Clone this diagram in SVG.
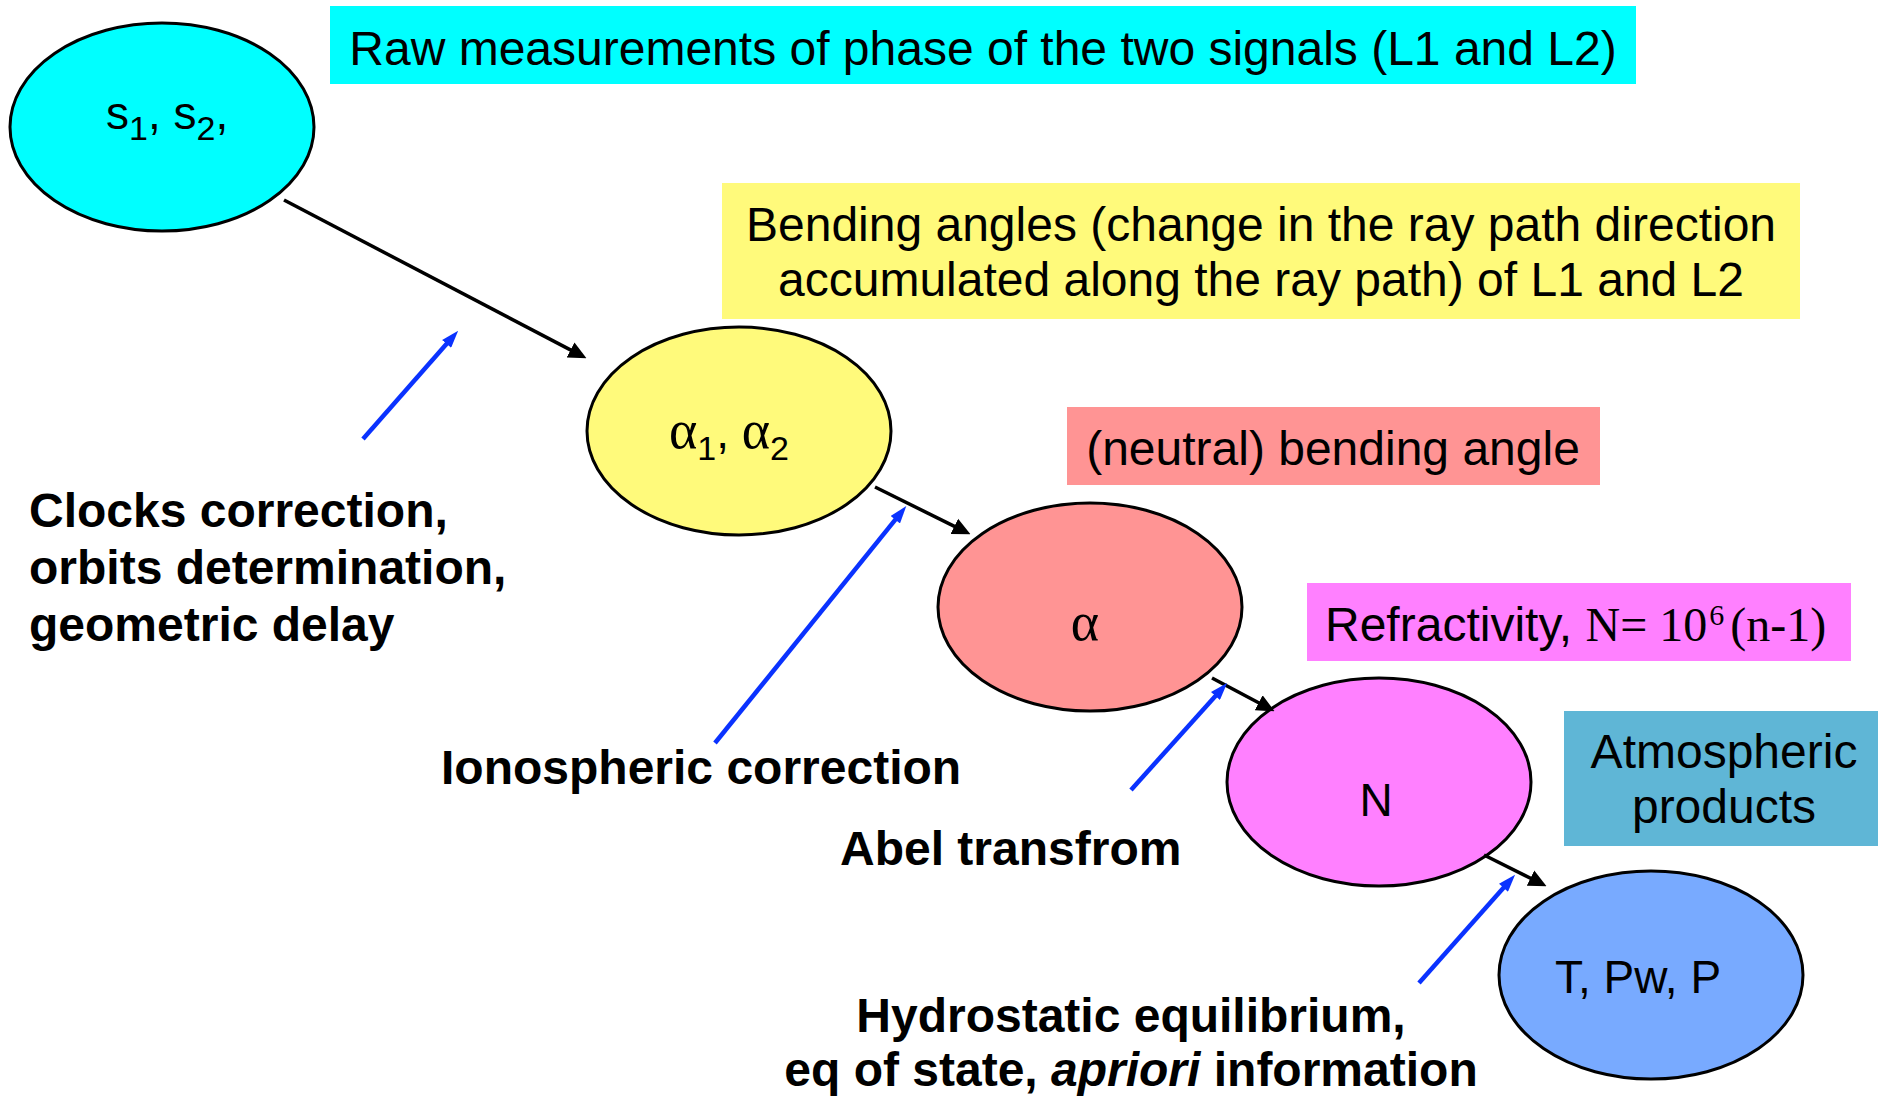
<svg xmlns="http://www.w3.org/2000/svg" width="1878" height="1098" viewBox="0 0 1878 1098">
<defs>
<style>
.sans{font-family:"Liberation Sans",Arial,sans-serif;fill:#000}
.serif{font-family:"Liberation Serif","Times New Roman",serif;fill:#000}
.lbl{font-size:48px}
.bold{font-family:"Liberation Sans",Arial,sans-serif;font-weight:bold;font-size:48px;fill:#000}
.node{stroke:#000;stroke-width:3}
.blk{stroke:#000;stroke-width:3.5;fill:none}
.blu{stroke:#0A32FF;stroke-width:4.5;fill:none}
</style>
<marker id="ah" markerUnits="userSpaceOnUse" markerWidth="18" markerHeight="18" viewBox="0 0 17 16" refX="7" refY="8" orient="auto">
<path d="M0,0 L17,8 L0,16 z" fill="#000"/>
</marker>
<marker id="bh" markerUnits="userSpaceOnUse" markerWidth="18" markerHeight="12" viewBox="0 0 16 11" refX="8" refY="5.5" orient="auto">
<path d="M0,0 L16,5.5 L0,11 z" fill="#0A32FF"/>
</marker>
</defs>
<rect width="1878" height="1098" fill="#fff"/>

<g id="box-raw">
<rect x="330" y="6" width="1306" height="78" fill="#00FFFF"/>
<text class="sans lbl" x="983" y="65" text-anchor="middle">Raw measurements of phase of the two signals (L1 and L2)</text>
</g>
<g id="box-bending">
<rect x="722" y="183" width="1078" height="136" fill="#FFFA7B"/>
<text class="sans lbl" x="1261" y="241" text-anchor="middle">Bending angles (change in the ray path direction</text>
<text class="sans lbl" x="1261" y="296" text-anchor="middle">accumulated along the ray path) of L1 and L2</text>
</g>
<g id="box-neutral">
<rect x="1067" y="407" width="533" height="78" fill="#FF9494"/>
<text class="sans lbl" x="1333" y="465" text-anchor="middle">(neutral) bending angle</text>
</g>
<g id="box-refractivity">
<rect x="1307" y="583" width="544" height="78" fill="#FF80FF"/>
<text class="sans lbl" x="1325" y="641">Refractivity, <tspan class="serif">N= 10</tspan><tspan class="serif" font-size="30" dx="2" dy="-16">6</tspan><tspan class="serif" dx="6" dy="16">(n-1)</tspan></text>
</g>
<g id="box-atmospheric">
<rect x="1564" y="711" width="314" height="135" fill="#5FB6D6"/>
<text class="sans lbl" x="1724" y="768" text-anchor="middle">Atmospheric</text>
<text class="sans lbl" x="1724" y="823" text-anchor="middle">products</text>
</g>

<g id="node-s">
<ellipse class="node" cx="162" cy="127" rx="152" ry="104" fill="#00FFFF"/>
<text class="sans" font-size="46" x="106" y="129">s<tspan font-size="34" dy="11">1</tspan><tspan dy="-11">, s</tspan><tspan font-size="34" dy="11">2</tspan><tspan dy="-11">,</tspan></text>
</g>
<g id="node-alpha12">
<ellipse class="node" cx="739" cy="431" rx="152" ry="104" fill="#FFFA7B"/>
<text class="sans" font-size="46" x="669" y="448"><tspan class="serif" font-size="54">α</tspan><tspan font-size="34" dy="12">1</tspan><tspan dy="-12">, </tspan><tspan class="serif" font-size="54">α</tspan><tspan font-size="34" dy="12">2</tspan></text>
</g>
<g id="node-alpha">
<ellipse class="node" cx="1090" cy="607" rx="152" ry="104" fill="#FF9494"/>
<text class="serif" font-size="54" x="1085" y="640" text-anchor="middle">α</text>
</g>
<g id="node-N">
<ellipse class="node" cx="1379" cy="782" rx="152" ry="104" fill="#FF80FF"/>
<text class="sans" font-size="46" x="1376" y="816" text-anchor="middle">N</text>
</g>
<g id="node-T">
<ellipse class="node" cx="1651" cy="975" rx="152" ry="104" fill="#78AAFF"/>
<text class="sans" font-size="46" x="1638" y="993" text-anchor="middle">T, Pw, P</text>
</g>

<g id="labels">
<text class="bold" x="29" y="527">Clocks correction,</text>
<text class="bold" x="29" y="584">orbits determination,</text>
<text class="bold" x="29" y="641">geometric delay</text>
<text class="bold" x="441" y="784">Ionospheric correction</text>
<text class="bold" x="840" y="865">Abel transfrom</text>
<text class="bold" x="1131" y="1032" text-anchor="middle">Hydrostatic equilibrium,</text>
<text class="bold" x="1131" y="1086" text-anchor="middle">eq of state, <tspan font-style="italic">apriori</tspan> information</text>
</g>

<g id="connectors">
<line class="blk" x1="284" y1="200" x2="577.1" y2="353.4" marker-end="url(#ah)"/>
<line class="blk" x1="875" y1="487" x2="961" y2="529.6" marker-end="url(#ah)"/>
<line class="blk" x1="1212" y1="678" x2="1265.2" y2="706.3" marker-end="url(#ah)"/>
<line class="blk" x1="1484" y1="855" x2="1537.1" y2="881.5" marker-end="url(#ah)"/>
<line class="blu" x1="363" y1="439" x2="452.4" y2="337.3" marker-end="url(#bh)"/>
<line class="blu" x1="715" y1="743" x2="900.8" y2="512.9" marker-end="url(#bh)"/>
<line class="blu" x1="1131" y1="790" x2="1221.3" y2="689.4" marker-end="url(#bh)"/>
<line class="blu" x1="1419" y1="983" x2="1509.3" y2="881.3" marker-end="url(#bh)"/>
</g>
</svg>
